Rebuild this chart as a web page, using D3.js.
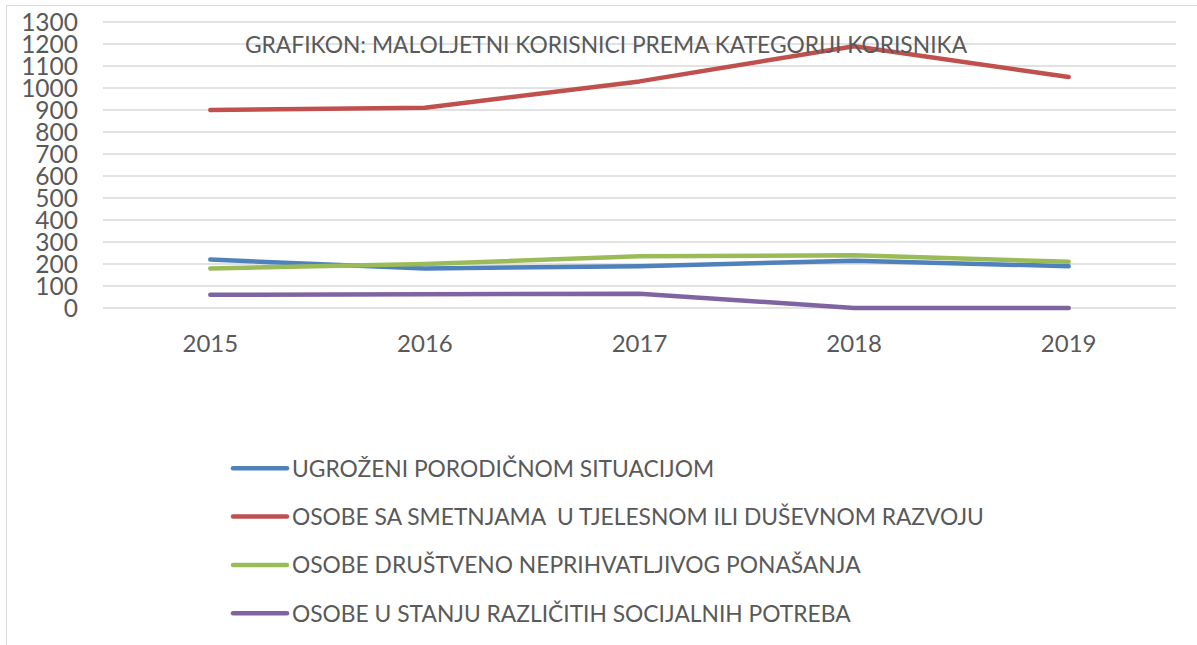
<!DOCTYPE html>
<html>
<head>
<meta charset="utf-8">
<script src="https://cdn.jsdelivr.net/npm/d3@7"></script>
<style>
  body { margin: 0; background: #fff; }
  text { font-family: Lato, "Open Sans", sans-serif; fill: #595959; white-space: pre; }
</style>
</head>
<body>
<div id="chart"></div>
<script>
const years = ["2015", "2016", "2017", "2018", "2019"];
const seriesNames = [
  "UGROŽENI PORODIČNOM SITUACIJOM",
  "OSOBE SA SMETNJAMA  U TJELESNOM ILI DUŠEVNOM RAZVOJU",
  "OSOBE DRUŠTVENO NEPRIHVATLJIVOG PONAŠANJA",
  "OSOBE U STANJU RAZLIČITIH SOCIJALNIH POTREBA"
];
const ugrozeni = [220, 180, 190, 215, 190];
const smetnje = [900, 910, 1030, 1190, 1050];
const drustveno = [180, 200, 235, 240, 210];
const socijalne = [60, 63, 65, 0, 0];
const yTicks = d3.range(0, 1400, 100);
const title = "GRAFIKON: MALOLJETNI KORISNICI PREMA KATEGORIJI KORISNIKA";

const allSeries = [ugrozeni, smetnje, drustveno, socijalne];
const colors = ["#4F81BD", "#C0504D", "#9BBB59", "#8064A2"];

const width = 1197, height = 645;
const svg = d3.select("#chart").append("svg")
  .attr("width", width)
  .attr("height", height);

// okvir
svg.append("rect")
  .attr("x", 6.5).attr("y", 5.5)
  .attr("width", 1300).attr("height", 700)
  .attr("fill", "none")
  .attr("stroke", "#d9d9d9");

const x = d3.scaleBand()
  .domain(years)
  .range([103, 1176]);

const y = d3.scaleLinear()
  .domain([0, 1300])
  .range([308, 22]);

// mreža
svg.append("g")
  .selectAll("line")
  .data(yTicks)
  .join("line")
  .attr("x1", 103).attr("x2", 1176)
  .attr("y1", d => y(d)).attr("y2", d => y(d))
  .attr("stroke", "#d9d9d9")
  .attr("stroke-width", 1.5);

// y osa
const yAxis = svg.append("g")
  .attr("transform", "translate(78,0)")
  .call(d3.axisLeft(y).tickValues(yTicks).tickFormat(d3.format("d")).tickSize(0).tickPadding(0));
yAxis.select(".domain").remove();
yAxis.selectAll("text")
  .style("font-size", "24.5px")
  .style("font-family", "Lato, sans-serif")
  .attr("dy", "0.36em")
  .attr("fill", "#595959");

// x osa
const xAxis = svg.append("g")
  .attr("transform", "translate(0,352)")
  .call(d3.axisBottom(x).tickSize(0).tickPadding(0));
xAxis.select(".domain").remove();
xAxis.selectAll("text")
  .style("font-size", "24px")
  .style("font-family", "Lato, sans-serif")
  .attr("dy", 0)
  .attr("fill", "#595959");

// linije
const line = d3.line()
  .x((d, i) => x(years[i]) + x.bandwidth() / 2)
  .y(d => y(d));

svg.append("g")
  .selectAll("path")
  .data(allSeries)
  .join("path")
  .attr("d", d => line(d))
  .attr("fill", "none")
  .attr("stroke", (d, i) => colors[i])
  .attr("stroke-width", 4.5)
  .attr("stroke-linecap", "round")
  .attr("stroke-linejoin", "round");

// naslov
svg.append("text")
  .attr("x", 606)
  .attr("y", 52.5)
  .attr("text-anchor", "middle")
  .style("font-size", "22.8px")
  .text(title);

// legenda
const legend = svg.append("g")
  .attr("transform", "translate(233,468.3)");

seriesNames.forEach((name, i) => {
  const g = legend.append("g").attr("transform", `translate(0,${i * 48.3})`);
  g.append("line")
    .attr("x1", 0).attr("x2", 54)
    .attr("stroke", colors[i])
    .attr("stroke-width", 4.5)
    .attr("stroke-linecap", "round");
  g.append("text")
    .attr("x", 59).attr("y", 8.4)
    .style("font-size", "22.8px")
    .text(name);
});
</script>
</body>
</html>
